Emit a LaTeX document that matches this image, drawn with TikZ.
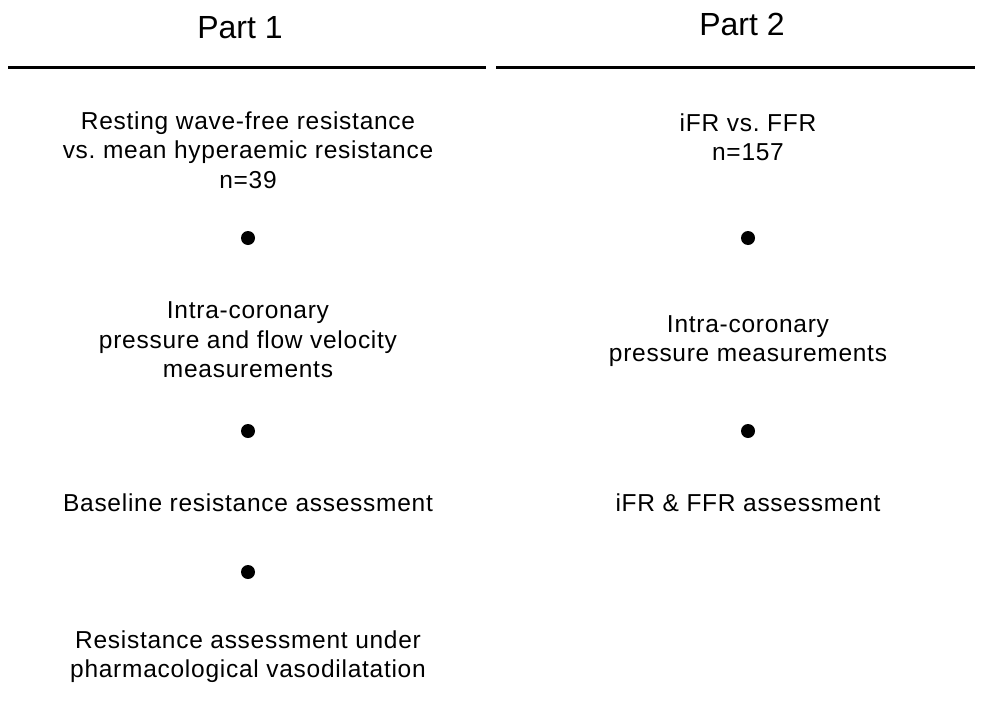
\documentclass[tikz,border=0pt]{standalone}
\usepackage{fontspec}
\setmainfont{Liberation Sans}
\newfontfamily\bodyfont[LetterSpace=3]{Liberation Sans}
\frenchspacing
\begin{document}
\begin{tikzpicture}[x=1pt,y=-1pt,
  heading/.style={font=\fontsize{32}{38}\selectfont, inner sep=0pt, anchor=base},
  txt/.style={font=\bodyfont\fontsize{24.5}{29.5}\selectfont, align=center, inner sep=0pt},
  rule/.style={line width=3pt},
  stepdot/.style={circle, fill=black, inner sep=0pt, minimum size=14pt}]
\useasboundingbox (0,0) rectangle (985,704);
\fill[white] (0,0) rectangle (985,704);
% headings
\node[heading] (h1) at (240,38) {Part 1};
\node[heading] (h2) at (742,35) {Part 2};
\coordinate (l1a) at (8,67.5);
\coordinate (l1b) at (486,67.5);
\coordinate (l2a) at (496,67.5);
\coordinate (l2b) at (975,67.5);
\draw[rule] (l1a) -- (l1b);
\draw[rule] (l2a) -- (l2b);
% left column
\node[txt] (a1) at (248,150) {Resting wave-free resistance\\vs.\ mean hyperaemic resistance\\n=39};
\node[stepdot] (d1) at (248,238) {};
\node[txt] (a2) at (248,340) {Intra-coronary\\pressure and flow velocity\\measurements};
\node[stepdot] (d2) at (248,431) {};
\node[txt] (a3) at (248,502.5) {Baseline resistance assessment};
\node[stepdot] (d3) at (248,572) {};
\node[txt] (a4) at (248,656.5) {Resistance assessment under\\pharmacological vasodilatation};
% right column
\node[txt] (b1) at (748,137) {iFR vs.\ FFR\\n=157};
\node[stepdot] (e1) at (748,238) {};
\node[txt] (b2) at (748,341) {Intra-coronary\\pressure measurements};
\node[stepdot] (e2) at (748,431) {};
\node[txt] (b3) at (748,502.5) {iFR \& FFR assessment};
\end{tikzpicture}
\end{document}
